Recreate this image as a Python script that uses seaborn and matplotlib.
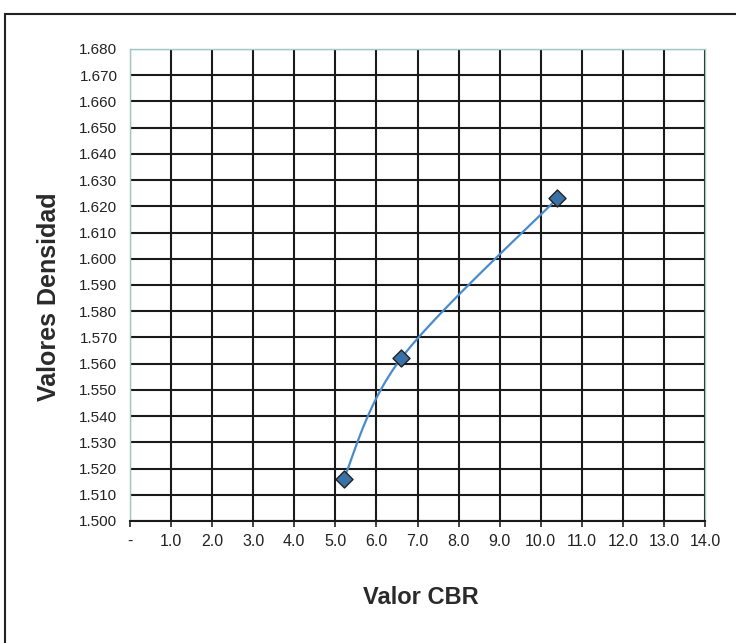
import numpy as np
import pandas as pd
import matplotlib
matplotlib.use("Agg")
import matplotlib.pyplot as plt
import seaborn as sns
from matplotlib.patches import Rectangle

# Data
cbr = [5.2, 6.6, 10.4]
densidad = [1.516, 1.562, 1.623]
x_ticks = [0, 1, 2, 3, 4, 5, 6, 7, 8, 9, 10, 11, 12, 13, 14]
x_labels = ["-"] + [f"{v:.1f}" for v in x_ticks[1:]]
y_ticks = [1.500, 1.510, 1.520, 1.530, 1.540, 1.550, 1.560, 1.570, 1.580,
           1.590, 1.600, 1.610, 1.620, 1.630, 1.640, 1.650, 1.660, 1.670, 1.680]

sns.set_theme(style="white")
plt.rcParams['font.family'] = ['Liberation Sans', 'DejaVu Sans']

fig = plt.figure(figsize=(7.36, 6.43), dpi=100)
ax = fig.add_axes([130/736, 1-521/643, 575/736, 472/643])

xmin, xmax = 0, 14
ymin, ymax = 1.500, 1.680

# Excel-style smoothed line (Catmull-Rom Bezier) in normalized space
pts = np.column_stack([(np.array(cbr) - xmin) / (xmax - xmin) * 575,
                       (np.array(densidad) - ymin) / (ymax - ymin) * 472])
curve = []
n = len(pts)
for i in range(n - 1):
    p0 = pts[i - 1] if i > 0 else pts[i]
    p1 = pts[i]
    p2 = pts[i + 1]
    p3 = pts[i + 2] if i + 2 < n else pts[i + 1]
    c1 = p1 + (p2 - p0) / 6
    c2 = p2 - (p3 - p1) / 6
    t = np.linspace(0, 1, 60)[:, None]
    seg = (1-t)**3*p1 + 3*(1-t)**2*t*c1 + 3*(1-t)*t**2*c2 + t**3*p2
    curve.append(seg)
curve = np.vstack(curve)
cx = curve[:, 0] / 575 * (xmax - xmin) + xmin
cy = curve[:, 1] / 472 * (ymax - ymin) + ymin
smooth = pd.DataFrame({"x": cx, "y": cy})
df = pd.DataFrame({"Valor CBR": cbr, "Valores Densidad": densidad})

sns.lineplot(data=smooth, x="x", y="y", sort=False, ax=ax, color="#4a8bcc", linewidth=1.6)
sns.scatterplot(data=df, x="Valor CBR", y="Valores Densidad", ax=ax, marker="D",
                s=75, color="#3a72a8", edgecolor="#222222", linewidth=1.0, zorder=5)

ax.set_xlim(xmin, xmax)
ax.set_ylim(ymin, ymax)
ax.set_xticks(x_ticks)
ax.set_xticklabels(x_labels)
ax.set_yticks(y_ticks)
ax.set_yticklabels([f"{v:.3f}" for v in y_ticks])
ax.grid(True, color="#1a1a1a", linewidth=1.5)
ax.set_axisbelow(True)
ax.tick_params(axis="both", labelsize=11, colors="#222222", width=1.2,
               direction="out", bottom=True, left=True)
ax.tick_params(axis="x", length=4, pad=5, labelsize=11.5)
ax.tick_params(axis="y", length=0, pad=9)
for s in ["top", "right", "left"]:
    ax.spines[s].set_color("#9fc9c0")
    ax.spines[s].set_linewidth(1.0)
ax.spines["bottom"].set_color("#1a1a1a")
ax.spines["bottom"].set_linewidth(1.5)

ax.set_xlabel("Valor CBR", fontsize=17, fontweight="bold", color="#2a2a2a", va="center")
ax.xaxis.set_label_coords((421 - 130) / 575, (521 - 597) / 472)
ax.set_ylabel("Valores Densidad", fontsize=18, fontweight="bold", color="#2a2a2a", va="center")
ax.yaxis.set_label_coords((49 - 130) / 575, (521 - 297) / 472)

fig.patches.append(Rectangle((5/736, -0.01), 1.0, 1 - 14/643 + 0.01, transform=fig.transFigure,
                             fill=False, edgecolor="#222222", linewidth=1.5))

fig.savefig("out.png", dpi=100)
